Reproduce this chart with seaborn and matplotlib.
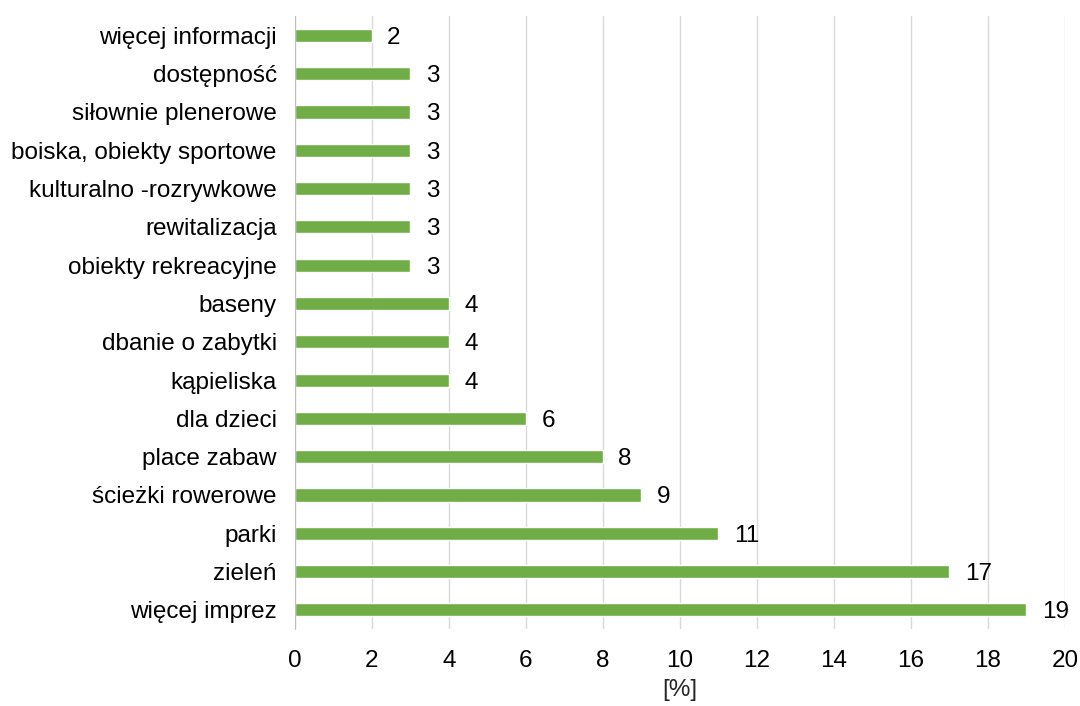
import matplotlib
matplotlib.use("Agg")
import matplotlib.pyplot as plt
import seaborn as sns
import pandas as pd

categories = [
    "więcej informacji", "dostępność", "siłownie plenerowe",
    "boiska, obiekty sportowe", "kulturalno -rozrywkowe", "rewitalizacja",
    "obiekty rekreacyjne", "baseny", "dbanie o zabytki", "kąpieliska",
    "dla dzieci", "place zabaw", "ścieżki rowerowe", "parki", "zieleń",
    "więcej imprez",
]
values = [2, 3, 3, 3, 3, 3, 3, 4, 4, 4, 6, 8, 9, 11, 17, 19]
x_ticks = list(range(0, 21, 2))

df = pd.DataFrame({"cat": categories, "val": values})

sns.set_style("white")
plt.rcParams["font.family"] = ["Liberation Sans", "DejaVu Sans"]

fig = plt.figure(figsize=(10.8, 7.06), dpi=100)
ax = fig.add_axes([0.273, 0.109, 0.713, 0.868])

sns.barplot(data=df, x="val", y="cat", orient="h", color="#70AD47",
            saturation=1, width=0.34, ax=ax)

for i, v in enumerate(values):
    ax.text(v + 0.4, i, str(v), va="center_baseline", ha="left",
            fontsize=17.5, color="black")

ax.set_xlim(0, 20)
ax.set_xticks(x_ticks)
ax.xaxis.grid(True, color="#D9D9D9", linewidth=1)
ax.set_axisbelow(True)
for s in ["top", "right", "bottom"]:
    ax.spines[s].set_visible(False)
ax.spines["left"].set_color("#BFBFBF")
ax.tick_params(axis="both", length=0, labelsize=17.5, colors="black")
ax.tick_params(axis="y", pad=13)
ax.tick_params(axis="x", pad=15)
ax.set_ylabel("")
ax.set_xlabel("[%]", fontsize=17.5, labelpad=5)

fig.savefig("out.png", dpi=100)
